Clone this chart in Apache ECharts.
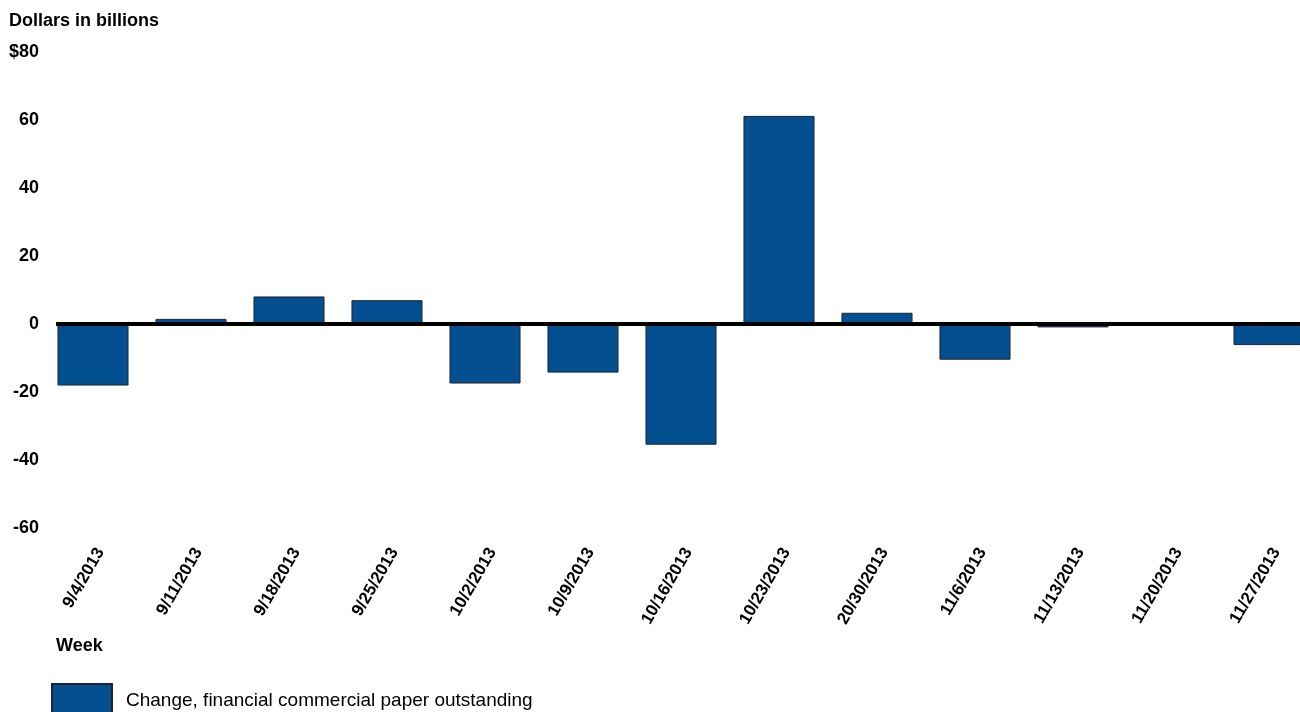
<!DOCTYPE html>
<html>
<head>
<meta charset="utf-8">
<script src="https://cdn.jsdelivr.net/npm/echarts@6/dist/echarts.min.js"></script>
<style>
  html, body { margin: 0; padding: 0; background: #fff; }
  #chart { width: 1300px; height: 712px; }
</style>
</head>
<body>
<div id="chart"></div>
<script>
var weeks = ['9/4/2013', '9/11/2013', '9/18/2013', '9/25/2013', '10/2/2013', '10/9/2013',
    '10/16/2013', '10/23/2013', '20/30/2013', '11/6/2013', '11/13/2013', '11/20/2013', '11/27/2013'];
var changes = [-18.1, 1.5, 8.1, 7.0, -17.5, -14.3, -35.5, 61.2, 3.3, -10.5, -1.0, 0, -6.2];
var seriesName = 'Change, financial commercial paper outstanding';

var myChart = echarts.init(document.getElementById('chart'));
var font = 'Liberation Sans, Arial, sans-serif';

var option = {
    animation: false,
    textStyle: { fontFamily: font },
    title: {
        text: 'Dollars in billions',
        left: 9,
        top: 12,
        padding: 0,
        textStyle: { fontFamily: font, fontSize: 18, fontWeight: 'bold', color: '#000' }
    },
    legend: {
        left: 51,
        top: 683,
        padding: 0,
        itemWidth: 60,
        itemHeight: 34,
        textStyle: { fontFamily: font, fontSize: 19, color: '#000', padding: [0, 0, 0, 9] },
        data: [{ name: seriesName, icon: 'rect' }]
    },
    graphic: [{
        type: 'text',
        left: 56,
        top: 637,
        style: { text: 'Week', font: 'bold 18px ' + font, fill: '#000' }
    }],
    // the plot runs past the right edge, as in the original
    grid: {
        left: 44, width: 1274, top: 52, bottom: 184,
        containLabel: false,
        outerBoundsMode: 'none'
    },
    xAxis: {
        type: 'category',
        data: weeks,
        axisLine: { show: false, onZero: false },
        axisTick: { show: false },
        axisLabel: {
            rotate: 60,
            margin: 17,
            verticalAlign: 'top',
            color: '#000',
            fontSize: 17,
            fontWeight: 'bold',
            fontFamily: font
        }
    },
    yAxis: {
        type: 'value',
        min: -60,
        max: 80,
        interval: 20,
        axisLine: { show: false },
        axisTick: { show: false },
        splitLine: { show: false },
        axisLabel: {
            margin: 5,
            color: '#000',
            fontSize: 18,
            fontWeight: 'bold',
            fontFamily: font,
            formatter: function (v) { return v === 80 ? '$80' : String(v); }
        }
    },
    series: [{
        name: seriesName,
        type: 'bar',
        data: changes,
        barCategoryGap: '27.5%',
        itemStyle: { color: '#034f90', borderColor: '#1b2533', borderWidth: 1 },
        markLine: {
            silent: true,
            symbol: 'none',
            label: { show: false },
            lineStyle: { color: '#000', width: 4, type: 'solid' },
            data: [[{ yAxis: 0, x: 56 }, { yAxis: 0, x: 1300 }]]
        }
    }]
};
myChart.setOption(option);
</script>
</body>
</html>
